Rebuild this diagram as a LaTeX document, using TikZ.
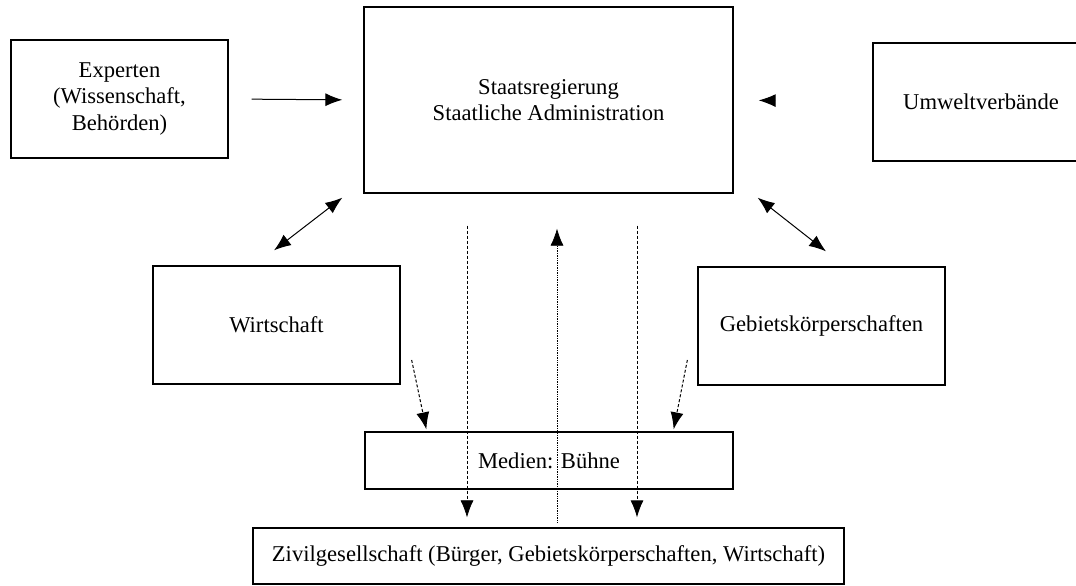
\documentclass[tikz,border=0pt]{standalone}
\usepackage{fontspec}
\setmainfont{Liberation Serif}
\usetikzlibrary{arrows.meta,calc}

\begin{document}
\begin{tikzpicture}[x=1pt,y=-1pt,
    akteur/.style={draw,line width=1.3pt,inner sep=0pt,align=center,font=\fontsize{22.6}{26.5}\selectfont},
    pfeil/.style={line width=1pt,-{Latex[length=17pt,width=13pt]}},
    doppelpfeil/.style={line width=1pt,{Latex[length=17pt,width=13pt]}-{Latex[length=17pt,width=13pt]}}]
    \useasboundingbox (0,0) rectangle (1076,586);
    \clip (0,0) rectangle (1076,586);
    % Akteure
    \node[akteur,minimum width=217pt,minimum height=118pt](experten) at (119.5,99){Experten\\(Wissenschaft,\\Behörden)};
    \node[akteur,minimum width=369pt,minimum height=186pt](staat) at (548.5,100){Staatsregierung\\Staatliche Administration};
    \node[akteur,minimum width=216pt,minimum height=118pt](umwelt) at (981,102){Umweltverbände};
    \node[akteur,minimum width=247pt,minimum height=118pt](wirtschaft) at (276.5,325){Wirtschaft};
    \node[akteur,minimum width=247pt,minimum height=118pt](gebiet) at (821.5,326){Gebietskörperschaften};
    \node[akteur,minimum width=368pt,minimum height=57pt](medien) at (549,460.5){Medien: Bühne};
    \node[akteur,minimum width=591pt,minimum height=56pt](zivil) at (548.5,556){Zivilgesellschaft (Bürger, Gebietskörperschaften, Wirtschaft)};
    % Beziehungen
    \draw[pfeil,shorten <=23pt,shorten >=21pt](experten.east)--(staat.west);
    \draw[pfeil,shorten <=100pt,shorten >=25pt](umwelt.west)--(staat.east);
    \draw[doppelpfeil]($(staat.south west)+(-21,4)$)--($(wirtschaft.north)+(-2.5,-15)$);
    \draw[doppelpfeil]($(staat.south east)+(24,4)$)--($(gebiet.north)+(4.5,-15)$);
    \draw[pfeil,densely dashed]($(wirtschaft.east)+(11,35)$)--($(medien.north west)+(62,-2)$);
    \draw[pfeil,densely dashed]($(gebiet.west)+(-10,34)$)--($(medien.north east)+(-60,-2)$);
    \draw[pfeil,line width=0.7pt,densely dashed]($(staat.south)+(-81.5,32)$)--($(zivil.north)+(-81.5,-10)$);
    \draw[pfeil,line width=0.7pt,densely dotted]($(zivil.north)+(8.5,-5)$)--($(staat.south)+(8.5,35)$);
    \draw[pfeil,line width=0.9pt,densely dashed]($(staat.south)+(88.5,32)$)--($(zivil.north)+(88.5,-10)$);
\end{tikzpicture}
\end{document}
